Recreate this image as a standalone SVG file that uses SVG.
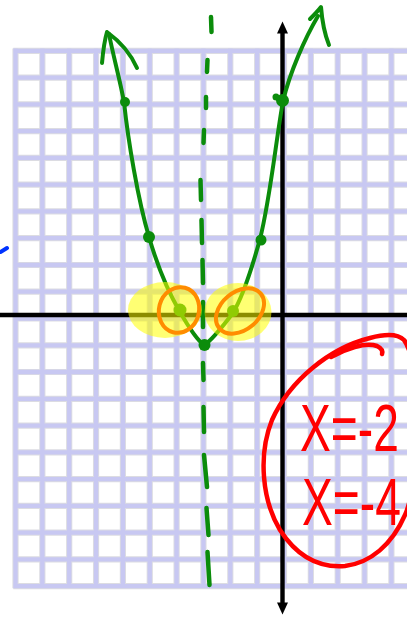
<svg xmlns="http://www.w3.org/2000/svg" width="407" height="617" viewBox="0 0 407 617">
<defs>
<style>
.fringe{stroke:#dcdce2;stroke-width:6.2;fill:none}
.grid{stroke:#c8c8f2;stroke-width:4.3;fill:none}
.axis{stroke:#000;stroke-width:4.4;fill:none}
.green{stroke:#0b8c0b;stroke-width:4;fill:none;stroke-linecap:round;stroke-linejoin:round}
.dash{stroke:#0b8c0b;stroke-width:4.5;fill:none;stroke-linecap:round}
.dot{fill:#0b8c0b}
.hl{fill:#ffff00;opacity:0.55}
.orange{stroke:#ff8c00;stroke-width:4;fill:none;stroke-linecap:round}
.red{stroke:#ff0000;stroke-width:4.5;fill:none;stroke-linecap:round;stroke-linejoin:round}
.hand{fill:#ff0000;font-family:"Liberation Sans",Arial,sans-serif}
</style>
</defs>
<rect width="407" height="617" fill="#fff"/>
<g id="grid">
<path class="fringe" d="M15.5,48.4V588.2M42.35,48.4V588.2M69.2,48.4V588.2M96.05,48.4V588.2M122.9,48.4V588.2M149.75,48.4V588.2M176.6,48.4V588.2M203.45,48.4V588.2M230.3,48.4V588.2M257.15,48.4V588.2M284,48.4V588.2M310.85,48.4V588.2M337.7,48.4V588.2M364.55,48.4V588.2M391.4,48.4V588.2M13.3,50.8H407M13.3,77.6H407M13.3,104.3H407M13.3,131.1H407M13.3,157.9H407M13.3,184.7H407M13.3,211.4H407M13.3,238.2H407M13.3,265H407M13.3,291.7H407M13.3,318.5H407M13.3,345.3H407M13.3,372H407M13.3,398.8H407M13.3,425.6H407M13.3,452.4H407M13.3,479.1H407M13.3,505.9H407M13.3,532.7H407M13.3,559.4H407M13.3,586.1H407"/>
<path class="grid" d="M15.5,48.4V588.2M42.35,48.4V588.2M69.2,48.4V588.2M96.05,48.4V588.2M122.9,48.4V588.2M149.75,48.4V588.2M176.6,48.4V588.2M203.45,48.4V588.2M230.3,48.4V588.2M257.15,48.4V588.2M284,48.4V588.2M310.85,48.4V588.2M337.7,48.4V588.2M364.55,48.4V588.2M391.4,48.4V588.2M13.3,50.8H407M13.3,77.6H407M13.3,104.3H407M13.3,131.1H407M13.3,157.9H407M13.3,184.7H407M13.3,211.4H407M13.3,238.2H407M13.3,265H407M13.3,291.7H407M13.3,318.5H407M13.3,345.3H407M13.3,372H407M13.3,398.8H407M13.3,425.6H407M13.3,452.4H407M13.3,479.1H407M13.3,505.9H407M13.3,532.7H407M13.3,559.4H407M13.3,586.1H407"/>
</g>
<g id="axes">
<path class="axis" d="M0,315H407"/>
<path class="axis" d="M282.5,32V604"/>
<path d="M282.5,21.5L288,33.5H277Z" fill="#000"/>
<path d="M282.5,614.5L288,602.5H277Z" fill="#000"/>
</g>
<path id="blue-mark" d="M0.5,252L7,248" stroke="#0033ff" stroke-width="4" stroke-linecap="round" fill="none"/>
<g id="symmetry-line">
<path class="dash" d="M211,17L211.5,32M207.5,60L207,72M206,97L206,108M204,130L203.5,143M200.5,180L201,200M201.5,220L202,243M202.5,260L203,283M203,302L203,327M203,363L203.5,380M203.5,407L204,432M204,455L207,487M206.5,508L208.5,535M207.5,552L209.5,585"/>
</g>
<g id="parabola">
<path class="green" d="M109,34C113,55 120,80 124,102C128,140 138,200 149,237C158,268 170,295 180,312C188,326 197,340 204,345C210,342 220,330 233,313C243,296 252,268 260,239C270,200 276,140 283,101C290,72 305,38 318,16"/>
<path class="green" d="M102,63C103,52 104,42 107,32C118,40 130,52 137,68"/>
<path class="green" d="M310,19C314,15 318,11 321,7C322,20 325,35 329,45"/>
<circle class="dot" cx="125" cy="102" r="5"/>
<circle class="dot" cx="149" cy="237" r="6"/>
<circle class="dot" cx="261" cy="240" r="5.5"/>
<circle class="dot" cx="282.5" cy="100.5" r="6.5"/>
<circle class="dot" cx="276" cy="97" r="3.5"/>
<circle class="dot" cx="204.5" cy="345" r="6"/>
<circle class="dot" cx="180" cy="310" r="6.5"/>
<circle class="dot" cx="233" cy="311" r="6"/>
</g>
<g id="highlights">
<ellipse class="hl" cx="165" cy="310" rx="37" ry="28"/>
<ellipse class="hl" cx="238" cy="312" rx="33.5" ry="29"/>
</g>
<g id="zero-loops">
<ellipse class="orange" cx="179" cy="310" rx="20" ry="23" transform="rotate(15 179 310)"/>
<ellipse class="orange" cx="240" cy="311" rx="27" ry="19" transform="rotate(-40 240 311)"/>
</g>
<g id="answer">
<path class="red" d="M404,340C398,334 385,334 370,338C330,348 290,380 272,420C258,455 262,500 280,530C298,558 320,568 345,566C370,563 392,545 405,515C412,500 418,460 418,420C418,385 412,350 404,340Z"/>
<path class="red" d="M331,357C345,349 365,342 377,346C381,348 383,351 382,354"/>
<text class="hand" font-size="66" transform="scale(0.7,1)"><tspan x="428.6" y="451">X=-2</tspan><tspan x="431.4" y="525">X=-4</tspan></text>
</g>
</svg>
